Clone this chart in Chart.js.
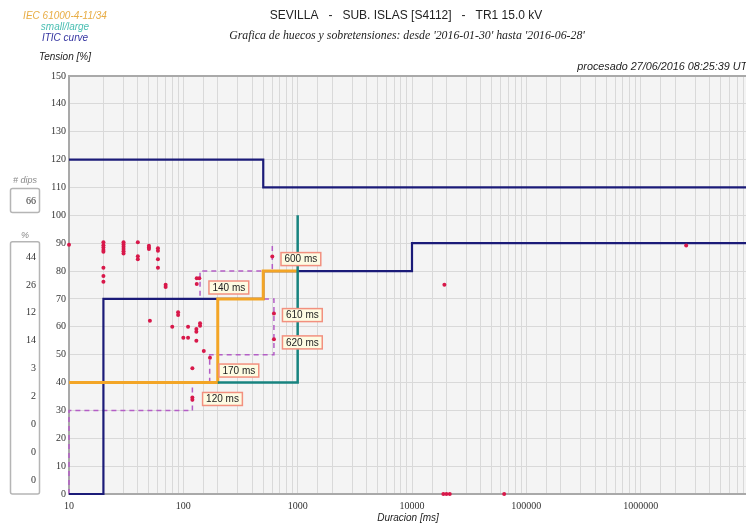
<!DOCTYPE html>
<html><head><meta charset="utf-8">
<script src="https://cdn.jsdelivr.net/npm/chart.js@4/dist/chart.umd.min.js"></script>
<style>
html,body{margin:0;padding:0;background:#fff;overflow:hidden;width:746px;height:526px}
#wrap{position:relative;width:812px;height:526px}
</style></head><body>
<div id="wrap"><canvas id="c" width="812" height="526"></canvas></div>
<script>
// ---- data ----
const titleText = "SEVILLA   -   SUB. ISLAS [S4112]   -   TR1 15.0 kV";
const subtitleText = "Grafica de huecos y sobretensiones: desde '2016-01-30' hasta '2016-06-28'";
const processedText = "procesado 27/06/2016 08:25:39 UTC";
const legendLines = ["IEC 61000-4-11/34", "small/large", "ITIC curve"];

// ITIC curve (duration ms, level %)
const iticLowMs = [10, 20, 500, 10000, 10000000];
const iticLowPct = [0, 70, 80, 90, 90];
const iticHighMs = [10, 500, 10000000];
const iticHighPct = [120, 110, 110];
// IEC 61000-4-11/34 small / large
const iecSmallMs = [10, 200, 500, 1000];
const iecSmallPct = [40, 70, 80, 80];
const iecLargeMs = [200, 1000, 1000];
const iecLargePct = [40, 40, 100];
// dashed contour
const contourMs = [10, 10, 120, 120, 170, 170, 620, 620, 140, 140, 600, 600];
const contourPct = [0, 30, 30, 40, 40, 50, 50, 70, 70, 80, 80, 90];
// dips
const dipMs = [10,
  20,20,20,20,20,20,20,20,
  30,30,30,30,30,30,
  40,40,40,
  50,50,50,51,
  60,60,60,60,
  70,70, 80, 90,90, 100, 110,110,
  120,120,120, 131,138,131, 130,130,130, 140,140, 151, 171,
  600, 620,620, 19200, 2500000, 18800,20000,21400,64000];
const dipPct = [89.4,
  90.3,89.3,88.5,87.6,86.9,81.2,78.2,76.2,
  90.3,89.5,88.7,87.9,87.1,86.3,
  90.3,85.3,84.2,
  89.1,88.5,87.9,62.2,
  88.2,87.3,84.2,81.2,
  75.1,74.3, 60, 65.2,64.2, 56.1, 56.1,60,
  45.1,34.6,33.8, 77.4,77.4,75.4, 59.2,58.2,55, 61.3,60.4, 51.3, 48.9,
  85.2, 64.8,55.5, 75.1, 89.2, 0,0,0,0];
// duration annotations
const noteText = ["600 ms", "140 ms", "610 ms", "620 ms", "170 ms", "120 ms"];
const noteMs = [1067, 250, 1099, 1099, 306, 220];
const notePct = [84.3, 74.1, 64.2, 54.4, 44.3, 34.1];
// side panel
const dipCount = 66;
const bandPct = [44, 26, 12, 14, 3, 2, 0, 0, 0];   // 90-80, 80-70 ... 10-0
const bandMid = [85, 75, 65, 55, 45, 35, 25, 15, 5];

// ---- chart ----
const pts = (xs, ys) => xs.map((x, i) => ({x: x, y: ys[i]}));
const NAVY = '#1b1b78', ORANGE = '#f3a526', TEAL = '#17837f', PURPLE = '#b45ec6', RED = '#d8184a';

const bgPlugin = {
  id: 'bg',
  beforeDraw(chart) {
    const {ctx, chartArea: a} = chart;
    ctx.save();
    ctx.fillStyle = '#f4f4f4';
    ctx.fillRect(a.left, a.top, a.right - a.left, a.bottom - a.top);
    ctx.restore();
  },
  beforeDatasetsDraw(chart) {
    const {ctx, chartArea: a} = chart;
    ctx.save();
    ctx.strokeStyle = '#a9a9a9';
    ctx.lineWidth = 2;
    ctx.strokeRect(a.left, a.top, a.right - a.left, a.bottom - a.top);
    ctx.restore();
  }
};

const textPlugin = {
  id: 'texts',
  afterDraw(chart) {
    const {ctx, chartArea: a, scales} = chart;
    const xs = scales.x, ys = scales.y;
    ctx.save();
    // title
    ctx.textAlign = 'center'; ctx.textBaseline = 'middle';
    ctx.fillStyle = '#222';
    ctx.font = '12px "Liberation Sans", Arial, sans-serif';
    ctx.fillText(titleText, 406, 16);
    ctx.font = 'italic 11.8px "Liberation Serif", "Times New Roman", serif';
    ctx.fillText(subtitleText, 407, 36);
    // legend
    const lc = ['#e8ad45', '#4bbfb3', '#3434a0'];
    ctx.font = 'italic 10px "Liberation Sans", Arial, sans-serif';
    legendLines.forEach((t, i) => { ctx.fillStyle = lc[i]; ctx.fillText(t, 65, 16 + i * 11); });
    ctx.fillStyle = '#222';
    ctx.fillText('Tension [%]', 65, 57);
    ctx.fillText('Duracion [ms]', (a.left + a.right) / 2 - 4, 518);
    ctx.textAlign = 'right';
    ctx.font = 'italic 10.8px "Liberation Sans", Arial, sans-serif';
    ctx.fillText(processedText, a.right, 67);
    // side panel
    ctx.textAlign = 'center';
    ctx.fillStyle = '#8a8a8a';
    ctx.font = 'italic 9px "Liberation Sans", Arial, sans-serif';
    ctx.fillText('# dips', 25, 180);
    ctx.fillText('%', 25, 235);
    ctx.strokeStyle = '#b5b5b5'; ctx.lineWidth = 1.5;
    const rr = (x, y, w, h, r) => { ctx.beginPath(); ctx.roundRect(x, y, w, h, r); ctx.stroke(); };
    rr(10.5, 188.5, 29, 24, 2);
    rr(10.5, ys.getPixelForValue(90) - 1.5, 29, ys.getPixelForValue(0) - ys.getPixelForValue(90) + 1.5, 2);
    ctx.fillStyle = '#333';
    ctx.textAlign = 'right';
    ctx.font = '10px "Liberation Serif", "Times New Roman", serif';
    ctx.fillText(String(dipCount), 36, 201);
    bandPct.forEach((v, i) => ctx.fillText(String(v), 36, ys.getPixelForValue(bandMid[i])));
    // duration notes
    ctx.font = '10px "Liberation Sans", Arial, sans-serif';
    ctx.textAlign = 'center';
    noteText.forEach((t, i) => {
      const cx = xs.getPixelForValue(noteMs[i]), cy = ys.getPixelForValue(notePct[i]);
      const w = ctx.measureText(t).width + 7, h = 13;
      ctx.fillStyle = '#fdfbe2';
      ctx.fillRect(cx - w / 2, cy - h / 2, w, h);
      ctx.strokeStyle = '#f2907f'; ctx.lineWidth = 1.5;
      ctx.strokeRect(cx - w / 2, cy - h / 2, w, h);
      ctx.fillStyle = '#222';
      ctx.fillText(t, cx, cy + 0.5);
    });
    ctx.restore();
  }
};

const lineDs = (data, color, width, order, extra) => Object.assign({
  data: data, showLine: true, borderColor: color, borderWidth: width,
  pointRadius: 0, pointHoverRadius: 0, fill: false, tension: 0, order: order, clip: false
}, extra || {});

new Chart(document.getElementById('c'), {
  type: 'scatter',
  data: {
    datasets: [
      {data: pts(dipMs, dipPct), pointRadius: 2, pointBackgroundColor: RED, pointBorderWidth: 0,
       borderColor: RED, showLine: false, order: 0, clip: false},
      lineDs(pts(iecLargeMs, iecLargePct), TEAL, 2.5, 1),
      lineDs(pts(iecSmallMs, iecSmallPct), ORANGE, 3, 2, {stepped: true}),
      lineDs(pts(iticLowMs, iticLowPct), NAVY, 2.2, 3, {stepped: true}),
      lineDs(pts(iticHighMs, iticHighPct), NAVY, 2.2, 3, {stepped: true}),
      lineDs(pts(contourMs, contourPct), PURPLE, 1.5, 4, {borderDash: [5, 4]})
    ]
  },
  options: {
    responsive: false, animation: false, devicePixelRatio: 1,
    layout: {padding: {top: 76, right: 57, left: 0, bottom: 0}},
    plugins: {legend: {display: false}, title: {display: false}, tooltip: {enabled: false}},
    scales: {
      x: {
        type: 'logarithmic', min: 10, max: 10000000,
        afterFit: s => { s.height = 32; },
        grid: {color: '#d9d9d9', lineWidth: 1, drawTicks: false},
        border: {display: false},
        ticks: {
          autoSkip: false, maxRotation: 0, padding: 6, color: '#333',
          font: {family: '"Liberation Serif", "Times New Roman", serif', size: 10},
          callback: v => { const l = Math.log10(v); return (Math.abs(l - Math.round(l)) < 1e-9 && v < 1e7) ? String(v) : ''; }
        }
      },
      y: {
        min: 0, max: 150,
        afterFit: s => { s.width = 69; },
        grid: {color: '#d9d9d9', lineWidth: 1, drawTicks: false},
        border: {display: false},
        ticks: {
          stepSize: 10, padding: 3, color: '#333',
          font: {family: '"Liberation Serif", "Times New Roman", serif', size: 10}
        }
      }
    }
  },
  plugins: [bgPlugin, textPlugin]
});
</script>
</body></html>
